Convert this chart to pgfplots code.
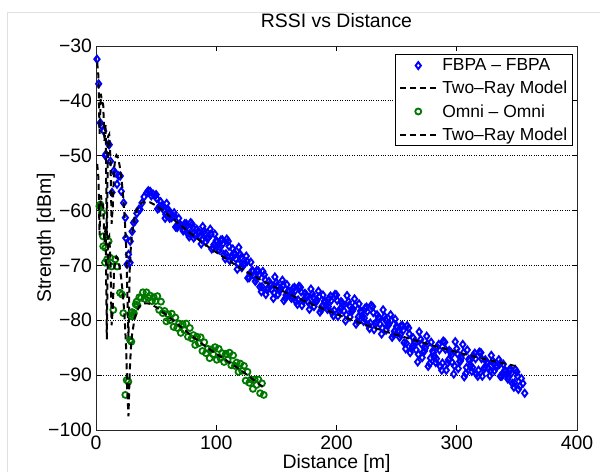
\documentclass[border=0pt]{standalone}
\usepackage{fontspec}
\setmainfont{Liberation Sans}
\usepackage{pgfplots}
\pgfplotsset{compat=1.18}
\definecolor{mgreen}{rgb}{0,0.47,0}
\newcommand\fs{\fontsize{19.5}{23}\selectfont}
\newcommand\lfs{\fontsize{17.5}{21}\selectfont}
\pgfplotsset{mylegend/.style={legend image code/.code={\draw[mark repeat=2,mark phase=2,##1] plot coordinates {(0bp,0bp) (18bp,0bp) (36bp,0bp)};}}}
\begin{document}
\begin{tikzpicture}
\useasboundingbox (-96bp,-42bp) rectangle (504bp,430bp);
\begin{axis}[
  at={(0,0)}, anchor=south west,
  scale only axis, width=481bp, height=384bp,
  xmin=0, xmax=400, ymin=-100, ymax=-30,
  xtick={0,100,200,300,400}, xticklabels={0,100,200,300,400},
  ytick={-100,-90,-80,-70,-60,-50,-40,-30},
  yticklabels={−100,−90,−80,−70,−60,−50,−40,−30},
  tick align=inside, major tick length=5bp,
  tick style={black, line width=0.8bp},
  axis line style={line width=0.8bp, black!85},
  ymajorgrids, grid style={black, dotted, line width=0.9bp},
  ticklabel style={font=\fs},
  xticklabel style={yshift=-2.5bp},
  yticklabel style={xshift=-0.5bp},
  title={RSSI vs Distance}, xlabel={Distance [m]}, ylabel={Strength [dBm]},
  title style={at={(0.5,1)}, anchor=base, yshift=13bp, font=\fs},
  xlabel style={at={(0.5,0)}, anchor=base, yshift=-38bp, font=\fs},
  ylabel style={at={([xshift=-45bp]axis description cs:0,0.5)}, anchor=base, font=\fs},
  clip mode=individual,
  legend style={at={(0.992,0.978)}, anchor=north east, draw=black, line width=0.8bp,
    font=\lfs, inner xsep=3.5bp, inner ysep=2bp, row sep=5bp, cells={anchor=west},
    /tikz/every odd column/.append style={column sep=3bp}},
]
% FBPA measurements
\addplot[mylegend, only marks, mark=diamond, mark size=3.5bp, blue, line width=1.9bp, mark options={line width=1.9bp, solid}] coordinates {
(0.8,-32.4) (2.2,-36.9) (3.6,-44) (4.7,-44.5) (6.4,-45.5) (7.8,-50) (8.3,-49.7) (10.5,-47.9) (11,-48)
(12,-51) (13.3,-56.7) (14.7,-52.8) (16,-53.1) (17.5,-55.2) (18.9,-53.7) (20.2,-53.7) (21,-56.5)
(23,-58.6) (24.4,-61.3) (24.8,-65) (25.8,-69.8) (27,-68) (28.3,-69.5) (28.5,-65.6) (30,-63.8)
(31.3,-62.2) (32.5,-61.9) (34,-60.5) (35.5,-59.8) (36.6,-59.8) (38.3,-58.6) (40,-57.5) (42.4,-56.7)
(43.5,-56.4) (45,-56.5) (46,-57.3) (47.5,-57) (49,-57.3)
(50,-57.1) (52.5,-59.5) (55,-59.1) (57.5,-61.4) (60,-59.8) (62.5,-61.3) (65,-60.4) (67.5,-63.1)
(70,-62.6) (72.5,-63.7) (75,-62.4) (77.5,-64.8) (80,-62.5) (82.5,-64.6) (85,-63.8) (87.5,-66.1)
(90,-63.7) (92.5,-65.1) (95,-63.4) (97.5,-66.8) (100,-65.5) (102.5,-67.2) (105,-65.3) (107.5,-68.8)
(110,-65.6) (112.5,-68.6) (115,-67.7) (117.5,-70.7) (120,-68.0) (122.5,-69.9) (125,-68.3) (127.5,-72.2)
(130,-70.9) (132.5,-72.9) (135,-71.0) (137.5,-74.8) (140,-71.7) (142.5,-74.5) (145,-73.3) (147.5,-76.0)
(150,-73.1) (152.5,-74.6) (155,-72.7) (157.5,-76.0) (160,-74.6) (162.5,-76.0) (165,-74.0) (167.5,-77.1)
(170,-74.0) (172.5,-76.5) (175,-75.4) (177.5,-78.0) (180,-75.2) (182.5,-76.7) (185,-74.7) (187.5,-78.1)
(190,-76.5) (192.5,-78.0) (195,-75.6) (197.5,-79.2) (200,-75.4) (202.5,-78.4) (205,-76.9) (207.5,-80.1)
(210,-76.6) (212.5,-78.4) (215,-76.1) (217.5,-80.2) (220,-78.3) (222.5,-80.2) (225,-77.6) (227.5,-81.5)
(230,-77.5) (232.5,-80.7) (235,-79.4) (237.5,-82.5) (240,-79.3) (242.5,-81.0) (245,-79.0) (247.5,-82.7)
(250,-81.1) (252.5,-83.1) (255,-81.0) (257.5,-85.2) (260,-81.4) (262.5,-85.2) (265,-83.8) (267.5,-87.6)
(270,-83.5) (272.5,-85.7) (275,-82.9) (277.5,-87.9) (280,-85.6) (282.5,-87.7) (285,-84.4) (287.5,-89.1)
(290,-84.0) (292.5,-87.8) (295,-85.8) (297.5,-89.8) (300,-85.2) (302.5,-87.5) (305,-84.4) (307.5,-89.7)
(310,-87.1) (312.5,-89.3) (315,-86.0) (317.5,-90.2) (320,-85.9) (322.5,-89.0) (325,-87.6) (327.5,-90.1)
(330,-87.4) (332.5,-88.5) (335,-87.2) (337.5,-90.2) (340,-89.1) (342.5,-90.7) (345,-89.0) (347.5,-92.2)
(350,-89.4) (352.5,-92.0) (355,-91.5) (356.5,-93.3)
(51.25,-59.7) (53.75,-58.4) (56.25,-59.9) (58.75,-58.7) (61.25,-61.4) (63.75,-61.0) (66.25,-63.0) (68.75,-61.4)
(71.25,-63.0) (73.75,-62.4) (76.25,-64.2) (78.75,-62.2) (81.25,-65.0) (83.75,-63.4) (86.25,-64.7) (88.75,-62.9)
(91.25,-65.7) (93.75,-64.8) (96.25,-67.0) (98.75,-64.3) (101.25,-66.3) (103.75,-65.4) (106.25,-68.0) (108.75,-65.2)
(111.25,-69.1) (113.75,-67.0) (116.25,-68.8) (118.75,-66.7) (121.25,-70.4) (123.75,-69.6) (126.25,-72.3) (128.75,-69.4)
(131.25,-71.8) (133.75,-70.9) (136.25,-73.9) (138.75,-71.1) (141.25,-75.3) (143.75,-72.9) (146.25,-74.4) (148.75,-72.1)
(151.25,-75.3) (153.75,-74.2) (156.25,-76.4) (158.75,-73.5) (161.25,-75.3) (163.75,-74.2) (166.25,-76.6) (168.75,-73.8)
(171.25,-77.3) (173.75,-75.1) (176.25,-76.6) (178.75,-74.3) (181.25,-77.5) (183.75,-76.3) (186.25,-78.5) (188.75,-75.4)
(191.25,-77.2) (193.75,-76.0) (196.25,-78.6) (198.75,-75.3) (201.25,-79.3) (203.75,-76.6) (206.25,-78.3) (208.75,-75.5)
(211.25,-79.4) (213.75,-78.0) (216.25,-80.7) (218.75,-77.0) (221.25,-79.3) (223.75,-77.8) (226.25,-80.8) (228.75,-77.3)
(231.25,-81.7) (233.75,-79.0) (236.25,-80.7) (238.75,-78.1) (241.25,-81.8) (243.75,-80.6) (246.25,-83.1) (248.75,-79.8)
(251.25,-81.9) (253.75,-81.0) (256.25,-84.1) (258.75,-81.0) (261.25,-85.9) (263.75,-83.2) (266.25,-85.4) (268.75,-82.1)
(271.25,-86.8) (273.75,-85.1) (276.25,-88.4) (278.75,-84.0) (281.25,-86.8) (283.75,-84.9) (286.25,-88.4) (288.75,-83.8)
(291.25,-89.1) (293.75,-85.5) (296.25,-87.7) (298.75,-83.9) (301.25,-88.8) (303.75,-86.9) (306.25,-90.3) (308.75,-85.4)
(311.25,-88.4) (313.75,-86.4) (316.25,-89.8) (318.75,-85.8) (321.25,-90.2) (323.75,-87.2) (326.25,-88.8) (328.75,-86.4)
(331.25,-89.2) (333.75,-88.3) (336.25,-90.2) (338.75,-88.0) (341.25,-89.8) (343.75,-89.0) (346.25,-91.5) (348.75,-89.0)
(351.25,-92.6) (353.75,-90.6)
(50.6,-57.8) (53.1,-59.2) (55.6,-59.3) (58.1,-60.7) (60.6,-60.2) (63.1,-61.2) (65.6,-61.1) (68.1,-62.7)
(70.6,-62.7) (73.1,-63.4) (75.6,-62.8) (78.1,-64.2) (80.6,-63.1) (83.1,-64.3) (85.6,-64.0) (88.1,-65.3)
(90.6,-64.2) (93.1,-65.0) (95.6,-64.3) (98.1,-66.2) (100.6,-65.7) (103.1,-66.7) (105.6,-66.0) (108.1,-67.9)
(110.6,-66.5) (113.1,-68.2) (115.6,-68.0) (118.1,-69.7) (120.6,-68.6) (123.1,-69.8) (125.6,-69.3) (128.1,-71.5)
(130.6,-71.1) (133.1,-72.4) (135.6,-71.7) (138.1,-73.9) (140.6,-72.6) (143.1,-74.1) (145.6,-73.6) (148.1,-75.0)
(150.6,-73.7) (153.1,-74.5) (155.6,-73.6) (158.1,-75.4) (160.6,-74.8) (163.1,-75.6) (165.6,-74.6) (168.1,-76.3)
(170.6,-74.8) (173.1,-76.2) (175.6,-75.7) (178.1,-77.1) (180.6,-75.8) (183.1,-76.6) (185.6,-75.7) (188.1,-77.4)
(190.6,-76.7) (193.1,-77.5) (195.6,-76.4) (198.1,-78.2) (200.6,-76.4) (203.1,-77.9) (205.6,-77.3) (208.1,-79.0)
(210.6,-77.3) (213.1,-78.3) (215.6,-77.3) (218.1,-79.4) (220.6,-78.6) (223.1,-79.6) (225.6,-78.4) (228.1,-80.5)
(230.6,-78.6) (233.1,-80.3) (235.6,-79.7) (238.1,-81.4) (240.6,-79.9) (243.1,-80.9) (245.6,-80.0) (248.1,-82.0)
(250.6,-81.3) (253.1,-82.6) (255.6,-81.8) (258.1,-84.2) (260.6,-82.5) (263.1,-84.7) (265.6,-84.2) (268.1,-86.2)
(270.6,-84.3) (273.1,-85.6) (275.6,-84.3) (278.1,-86.9) (280.6,-85.9) (283.1,-87.0) (285.6,-85.4) (288.1,-87.8)
(290.6,-85.3) (293.1,-87.2) (295.6,-86.3) (298.1,-88.3) (300.6,-86.1) (303.1,-87.4) (305.6,-85.9) (308.1,-88.6)
(310.6,-87.4) (313.1,-88.6) (315.6,-87.0) (318.1,-89.1) (320.6,-87.0) (323.1,-88.6) (325.6,-87.9) (328.1,-89.2)
(330.6,-87.9) (333.1,-88.5) (335.6,-88.0) (338.1,-89.7) (340.6,-89.3) (343.1,-90.3) (345.6,-89.6) (348.1,-91.4)
(350.6,-90.2)
};
\addlegendentry{FBPA – FBPA}
% FBPA two-ray model
\addplot[mylegend, black, line width=2bp, dash pattern=on 6bp off 4bp, mark=none] coordinates {
(1,-33.0) (2,-35.5) (3,-46.0) (4,-38.7) (5,-40.1) (6,-40.7) (7,-47.4) (8,-44.3) (9,-65.0) (10,-46.5)
(11,-46.1) (12,-50.3) (13,-62.4) (14,-59.1) (15,-52.6) (16,-50.5) (17,-49.9) (18,-50.2) (19,-51.0)
(20,-52.3) (21,-53.9) (22,-56.0) (23,-58.5) (24,-61.8) (25,-66.3) (26,-74.4) (27,-84.0) (28,-71.0)
(29,-66.6) (30,-64.1) (32,-61.3) (34,-59.8) (36,-59.0) (38,-58.6) (40,-58.4) (42,-58.4) (45,-58.5)
(50,-59.1) (55,-59.9) (60,-60.8) (70,-62.6) (80,-64.4) (90,-66.1) (100,-67.6) (120,-70.5) (140,-73.0)
(160,-75.2) (180,-77.1) (200,-78.9) (220,-80.5) (240,-82.0) (260,-83.3) (280,-84.6) (300,-85.8)
(320,-86.9) (340,-87.9) (352,-88.5)
};
\addlegendentry{Two–Ray Model}
% Omni measurements
\addplot[mylegend, only marks, mark=o, mark size=3bp, mgreen, line width=1.8bp, mark options={line width=1.8bp, solid}] coordinates {
(2.8,-59.2) (3.6,-58.9) (5,-60.4) (5.8,-64.7) (6,-66.5) (7.5,-69.5) (7.8,-66.8) (9.2,-68.9) (10.5,-65.6)
(11.9,-68.6) (13,-70.2) (14.4,-78.1) (16,-68.9) (17.5,-70.2) (20,-75) (21.6,-75.3) (22.7,-78.7)
(24.4,-93.6) (25.5,-90.9) (26.9,-91.2) (28.3,-83.6) (29.4,-83.9) (30,-79.3) (31,-79) (33.8,-76.6)
(30,-78.5) (31.5,-78.7) (33,-77.1) (34.5,-77.3) (36,-75.8) (37.5,-75.9) (39,-74.9) (40.5,-76.1)
(42,-74.9) (43.5,-75.9) (45,-75.5) (46.5,-76.5) (48,-75.8) (49.5,-76.5) (51,-75.6) (52.5,-78.1)
(54,-76.6) (55.5,-78.7) (57,-78.3) (58.5,-80.2) (60,-78.9) (61.5,-80.0) (63,-78.8) (64.5,-81.2)
(66,-79.5) (67.5,-81.4) (69,-80.6) (70.5,-82.3) (72,-80.7) (73.5,-81.8) (75,-80.6) (76.5,-83.0)
(78,-81.4) (79.5,-83.3) (81,-82.7) (82.5,-84.5) (84,-83.0) (85.5,-84.2) (87,-83.1) (88.5,-85.6)
(90,-84.0) (91.5,-86.0) (93,-85.2) (94.5,-86.9) (96,-85.3) (97.5,-86.2) (99,-84.9) (100.5,-87.2)
(102,-85.2) (103.5,-86.9) (105,-86.0) (106.5,-87.6) (108,-86.1) (109.5,-87.2) (111,-85.9) (112.5,-88.2)
(114,-86.4) (115.5,-88.3) (117,-87.7) (118.5,-89.4) (120,-87.9) (121.5,-89.2) (123,-88.3) (124.5,-91.0)
(126,-89.4) (127.5,-91.4) (129,-90.8) (130.5,-92.5) (132,-90.8) (133.5,-91.8) (135,-90.8) (136.5,-93.3)
(138,-91.5) (139.5,-93.6)
};
\addlegendentry{Omni – Omni}
% Omni two-ray model
\addplot[mylegend, black, line width=2bp, dash pattern=on 6bp off 4bp, mark=none] coordinates {
(1,-51.5) (2,-54.0) (3,-64.5) (4,-57.2) (5,-58.6) (6,-59.2) (7,-65.9) (8,-62.8) (9,-83.5) (10,-65.0)
(11,-64.6) (12,-68.8) (13,-80.9) (14,-77.6) (15,-71.1) (16,-69.0) (17,-68.4) (18,-68.7) (19,-69.5)
(20,-70.8) (21,-72.4) (22,-74.5) (23,-77.0) (24,-80.3) (25,-84.8) (26,-92.9) (27,-97.5) (28,-89.5)
(29,-85.1) (30,-82.6) (32,-79.8) (34,-78.3) (36,-77.5) (38,-77.1) (40,-76.9) (42,-76.9) (45,-77.0)
(50,-77.6) (55,-78.4) (60,-79.3) (70,-81.1) (80,-82.9) (90,-84.6) (100,-86.1) (120,-89.0) (139,-92.2)
};
\addlegendentry{Two–Ray Model}
\end{axis}
\draw[black!12, line width=1bp] (-88bp,-42bp) -- (-88bp,417bp) -- (504bp,417bp);
\end{tikzpicture}
\end{document}
